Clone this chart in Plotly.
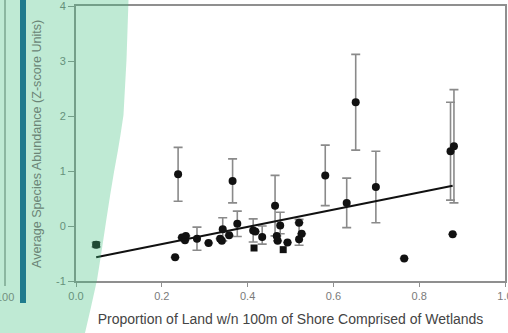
import plotly.graph_objects as go

# ---- data ----
prop_wetland = [0.047, 0.231, 0.238, 0.247, 0.254, 0.256, 0.282, 0.309, 0.336, 0.340,
                0.342, 0.357, 0.365, 0.376, 0.413, 0.418, 0.434, 0.464, 0.476,
                0.468, 0.470, 0.493, 0.520, 0.526, 0.520, 0.581, 0.631, 0.652,
                0.699, 0.765, 0.873, 0.881, 0.878]
abundance = [-0.34, -0.57, 0.94, -0.21, -0.26, -0.18, -0.23, -0.31, -0.23, -0.27,
             -0.06, -0.17, 0.82, 0.04, -0.08, -0.10, -0.20, 0.37, 0.01,
             -0.18, -0.27, -0.30, 0.06, -0.14, -0.24, 0.92, 0.42, 2.25,
             0.71, -0.59, 1.36, 1.45, -0.15]
err_plus = [0.04, 0, 0.49, 0, 0, 0, 0.21, 0, 0, 0,
            0.21, 0, 0.40, 0.23, 0.21, 0, 0.20, 0.55, 0.24,
            0, 0, 0, 0, 0, 0.36, 0.55, 0.45, 0.87,
            0.65, 0, 0.89, 1.03, 0]
err_minus = [0.04, 0, 0.49, 0, 0, 0, 0.21, 0, 0, 0,
             0.21, 0, 0.40, 0.23, 0.21, 0, 0.13, 0.55, 0.15,
             0, 0, 0, 0, 0, 0.11, 0.55, 0.45, 0.87,
             0.65, 0, 0.89, 1.03, 0]
square_x = [0.047, 0.415, 0.483]
square_y = [-0.34, -0.40, -0.43]

fit_x = [0.047, 0.878]
fit_y = [-0.57, 0.73]

x_ticks = [0.0, 0.2, 0.4, 0.6, 0.8, 1.0]
x_ticktext = ["0.0", "0.2", "0.4", "0.6", "0.8", "1.0"]
y_ticks = [-1, 0, 1, 2, 3, 4]
y_ticktext = ["-1", "0", "1", "2", "3", "4"]

x_title = "Proportion of Land w/n 100m of Shore Comprised of Wetlands"
y_title = "Average Species Abundance (Z-score Units)"

# ---- layout geometry (pixels) ----
W, H = 508, 333
L, R, T, B = 76, 3, 6, 52
PW, PH = W - L - R, H - T - B


def px(p):
    return (p - L) / PW


def py(p):
    return (H - B - p) / PH


FONT = "Arial, Liberation Sans, sans-serif"
AX = "#8f8f8f"

fig = go.Figure()

fig.add_trace(go.Scatter(
    x=prop_wetland, y=abundance, mode="markers",
    marker=dict(color="#111111", size=8, symbol="circle"),
    error_y=dict(type="data", array=err_plus, arrayminus=err_minus,
                 color="#8a8a8a", thickness=1.6, width=4.5),
    showlegend=False, hoverinfo="skip"))

fig.add_trace(go.Scatter(
    x=square_x, y=square_y, mode="markers",
    marker=dict(color="#111111", size=7, symbol="square"),
    showlegend=False, hoverinfo="skip"))

fig.add_trace(go.Scatter(
    x=fit_x, y=fit_y, mode="lines",
    line=dict(color="#111111", width=2),
    showlegend=False, hoverinfo="skip"))

# green background curve (overlay)
curve = [(129, -5), (128.5, 0), (126.5, 60), (123.5, 115), (120.5, 135), (118, 150),
         (114, 172), (110, 196), (106, 222), (101.5, 252), (97, 280), (91, 307),
         (85, 333), (83, 340)]
path = "M {:.4f},{:.4f}".format(px(-10), py(-5))
for cx, cy in curve:
    path += " L {:.4f},{:.4f}".format(px(cx), py(cy))
path += " L {:.4f},{:.4f} Z".format(px(-10), py(340))

shapes = [
    # neighbouring chart's axis line
    dict(type="line", xref="paper", yref="paper", x0=px(5), x1=px(5),
         y0=py(-2), y1=py(282), line=dict(color="#9a9a9a", width=1.5), layer="above"),
    dict(type="line", xref="paper", yref="paper", x0=px(5), x1=px(5),
         y0=py(282), y1=py(286), line=dict(color="#9a9a9a", width=1.5), layer="above"),
    dict(type="path", xref="paper", yref="paper", path=path,
         fillcolor="rgba(60,190,125,0.33)", line=dict(width=0), layer="above"),
    # teal bar
    dict(type="rect", xref="paper", yref="paper", x0=px(20), x1=px(26),
         y0=py(303), y1=py(-5), fillcolor="#1f7b8d", line=dict(width=0), layer="above"),
]

annotations = [
    dict(text=y_title, textangle=-90, xref="paper", yref="paper",
         x=px(37), y=py(144), xanchor="center", yanchor="middle", showarrow=False,
         font=dict(family=FONT, size=12.6, color="#6b8576")),
    dict(text="100", xref="paper", yref="paper", x=px(16), y=py(297),
         xanchor="right", yanchor="middle", showarrow=False,
         font=dict(family=FONT, size=11, color="#73907f")),
]

fig.update_layout(
    width=W, height=H,
    margin=dict(l=L, r=R, t=T, b=B, pad=0, autoexpand=False),
    paper_bgcolor="white", plot_bgcolor="white",
    font=dict(family=FONT, color="#777777"),
    shapes=shapes, annotations=annotations,
    xaxis=dict(range=[0, 1.0], tickvals=x_ticks, ticktext=x_ticktext,
               showgrid=False, zeroline=False, showline=True, linecolor=AX,
               linewidth=1.8, mirror=True, ticks="outside", ticklen=4,
               tickcolor=AX, tickwidth=1.3, ticklabeloverflow="allow",
               automargin=False,
               tickfont=dict(family=FONT, size=11, color="#7a7a7a"),
               title=dict(text=x_title, standoff=13,
                          font=dict(family=FONT, size=14, color="#444444"))),
    yaxis=dict(range=[-1, 4], tickvals=y_ticks, ticktext=y_ticktext,
               showgrid=False, zeroline=False, showline=True, linecolor=AX,
               linewidth=1.8, mirror=True, ticks="outside", ticklen=6,
               tickcolor=AX, tickwidth=1.3, ticklabeloverflow="allow",
               automargin=False,
               tickfont=dict(family=FONT, size=11, color="#7a7a7a")),
)

fig.write_html("out.html")
